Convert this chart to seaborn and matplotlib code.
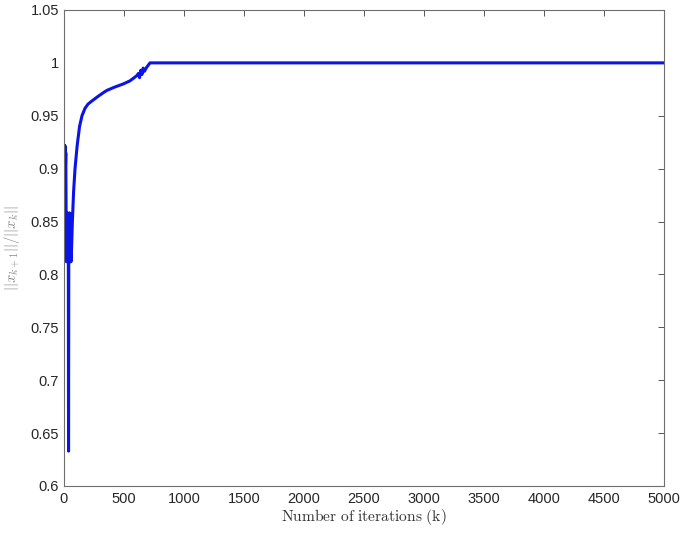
import matplotlib.pyplot as plt
import matplotlib.ticker as ticker
import pandas as pd
import seaborn as sns

# values
iterations = [1, 3, 5, 7, 9, 11, 13, 15, 18, 21, 24, 27, 30, 33, 36, 38, 40,
              43, 46, 49, 52, 55, 58, 62, 70, 80, 92, 110, 130, 150, 175,
              200, 233, 280, 330, 358, 420, 492, 550, 608, 620, 630, 640,
              650, 660, 670, 690, 717, 800, 1000, 2000, 3000, 4000, 5000]
ratio = [0.900, 0.922, 0.895, 0.922, 0.900, 0.920, 0.905, 0.915, 0.850,
         0.812, 0.858, 0.812, 0.858, 0.812, 0.855, 0.633, 0.812, 0.858,
         0.812, 0.858, 0.812, 0.856, 0.812, 0.820, 0.850, 0.878, 0.900,
         0.922, 0.940, 0.950, 0.957, 0.961, 0.964, 0.968, 0.972, 0.974,
         0.977, 0.980, 0.983, 0.988, 0.990, 0.986, 0.993, 0.989, 0.995,
         0.992, 0.996, 1.000, 1.000, 1.000, 1.000, 1.000, 1.000, 1.000]


def main():
    sns.set_style("white")
    plt.rcParams['font.family'] = ['Liberation Sans', 'DejaVu Sans']
    plt.rcParams['mathtext.fontset'] = 'cm'

    df = pd.DataFrame({'k': iterations, 'ratio': ratio})

    fig = plt.figure(figsize=(6.85, 5.34), dpi=100)
    ax = fig.add_axes([0.0934, 0.0899, 0.8759, 0.8914])
    sns.lineplot(data=df, x='k', y='ratio', color='#0a14e6', linewidth=2.2,
                 ax=ax)

    ax.set_xlim(0, 5000)
    ax.set_ylim(0.6, 1.05)
    ax.xaxis.set_major_locator(ticker.MultipleLocator(500))
    ax.yaxis.set_major_locator(ticker.MultipleLocator(0.05))
    ax.yaxis.set_major_formatter(
        ticker.FuncFormatter(lambda v, p: f'{v:.2f}'.rstrip('0').rstrip('.')))
    ax.tick_params(direction='in', length=4, width=0.7, color='#555555',
                   labelcolor='#262626', labelsize=10.5, top=True, right=True)
    ax.tick_params(axis='x', pad=4)
    for s in ax.spines.values():
        s.set_color('#6e6e6e')
        s.set_linewidth(0.8)

    ax.set_xlabel(r'$\mathrm{Number\ of\ iterations\ (k)}$', fontsize=11.2,
                  color='#333333', labelpad=1)
    ax.set_ylabel(r'$||x_{k+1}||/||x_k||$', fontsize=10.5, color='#8a8a8a',
                  labelpad=6)

    fig.savefig('out.png', dpi=100)


if __name__ == "__main__":
    main()
